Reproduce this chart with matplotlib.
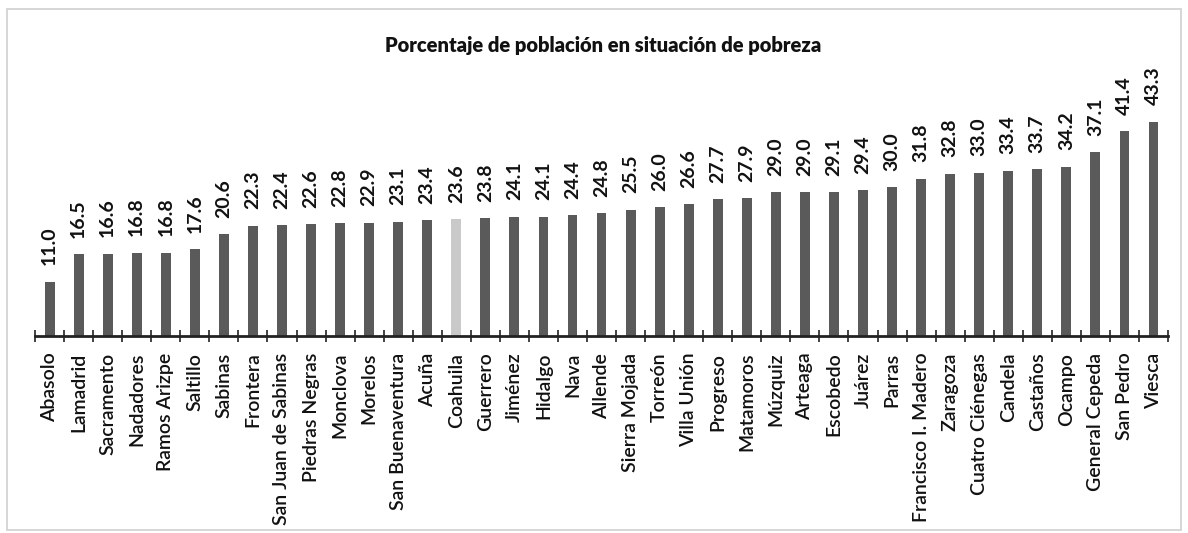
import matplotlib
matplotlib.use("Agg")
import matplotlib.pyplot as plt
from matplotlib.patches import Rectangle

municipios = [
    "Abasolo", "Lamadrid", "Sacramento", "Nadadores", "Ramos Arizpe",
    "Saltillo", "Sabinas", "Frontera", "San Juan de Sabinas", "Piedras Negras",
    "Monclova", "Morelos", "San Buenaventura", "Acuña", "Coahuila",
    "Guerrero", "Jiménez", "Hidalgo", "Nava", "Allende",
    "Sierra Mojada", "Torreón", "Villa Unión", "Progreso", "Matamoros",
    "Múzquiz", "Arteaga", "Escobedo", "Juárez", "Parras",
    "Francisco I. Madero", "Zaragoza", "Cuatro Ciénegas", "Candela", "Castaños",
    "Ocampo", "General Cepeda", "San Pedro", "Viesca",
]
pobreza = [
    11.0, 16.5, 16.6, 16.8, 16.8,
    17.6, 20.6, 22.3, 22.4, 22.6,
    22.8, 22.9, 23.1, 23.4, 23.6,
    23.8, 24.1, 24.1, 24.4, 24.8,
    25.5, 26.0, 26.6, 27.7, 27.9,
    29.0, 29.0, 29.1, 29.4, 30.0,
    31.8, 32.8, 33.0, 33.4, 33.7,
    34.2, 37.1, 41.4, 43.3,
]
estatal = "Coahuila"

plt.rcParams["font.family"] = ["Lato", "DejaVu Sans"]

fig = plt.figure(figsize=(11.88, 5.33), dpi=100)
ax = fig.add_axes([0.0295, 0.3696, 0.9537, 0.4644])

colores = ["#c9c9c9" if m == estatal else "#5a5a5a" for m in municipios]
x = range(len(municipios))
ax.bar(x, pobreza, width=0.34, color=colores)

for i, v in enumerate(pobreza):
    ax.text(i, v + 3.3, f"{v:.1f}", rotation=90, ha="center", va="bottom",
            fontsize=14, fontweight="bold", color="#111111")

ax.set_xlim(-0.5, len(municipios) - 0.5)
ax.set_ylim(0, 50)
ax.set_xticks(list(x))
ax.set_xticklabels(municipios, rotation=90, fontsize=14, fontweight="semibold", color="#111111")
ax.tick_params(axis="x", which="major", length=0, pad=12)
ax.set_xticks([i + 0.5 for i in range(-1, len(municipios))], minor=True)
ax.tick_params(axis="x", which="minor", direction="inout", length=8, width=1.2, color="#222222")
ax.set_yticks([])
for s in ["top", "right", "left"]:
    ax.spines[s].set_visible(False)
ax.spines["bottom"].set_linewidth(2)
ax.spines["bottom"].set_color("#222222")

fig.text(0.508, 0.914, "Porcentaje de población en situación de pobreza",
         ha="center", va="center", fontsize=14.5, fontweight="heavy", color="#111111")

fig.patches.append(Rectangle((0.006, 0.006), 0.988, 0.978, transform=fig.transFigure,
                             fill=False, edgecolor="#d0d0d0", linewidth=1.2))

fig.savefig("out.png", dpi=100)
